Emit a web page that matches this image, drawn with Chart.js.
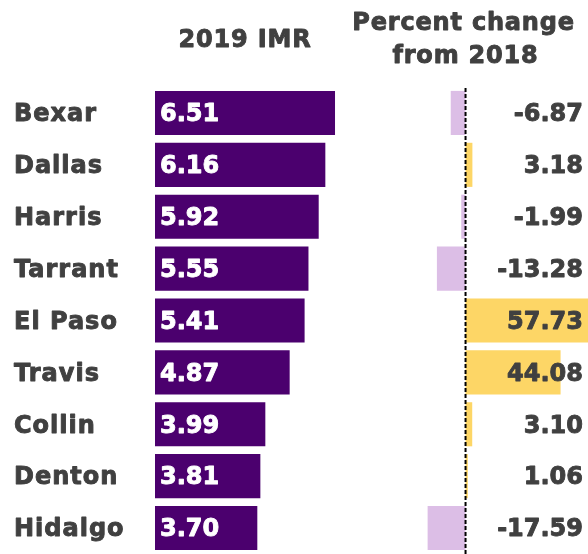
<!DOCTYPE html>
<html>
<head>
<meta charset="utf-8">
<script src="https://cdn.jsdelivr.net/npm/chart.js@4.4.1/dist/chart.umd.min.js"></script>
<style>
  html, body { margin: 0; padding: 0; background: #fff; }
  #wrap { position: relative; width: 588px; height: 554px; }
  #wrap canvas { position: absolute; left: 0; top: 0; }
</style>
</head>
<body>
<div id="wrap">
  <canvas id="grafico-imr" width="588" height="554"></canvas>
  <canvas id="grafico-variacao" width="588" height="554"></canvas>
</div>
<script>
// dados
const condados = ['Bexar', 'Dallas', 'Harris', 'Tarrant', 'El Paso', 'Travis', 'Collin', 'Denton', 'Hidalgo'];
const imr2019 = [6.51, 6.16, 5.92, 5.55, 5.41, 4.87, 3.99, 3.81, 3.70];
const variacao = [-6.87, 3.18, -1.99, -13.28, 57.73, 44.08, 3.10, 1.06, -17.59];
const tituloImr = '2019 IMR';
const tituloVariacao = ['Percent change', 'from 2018'];

const roxo = '#4b006e';
const lilas = '#dcbee6';
const amarelo = '#fdd666';
const cinza = '#404040';
const fonte = '"DejaVu Sans", Verdana, sans-serif';

Chart.defaults.animation = false;
Chart.defaults.responsive = false;

// texto em negrito "pesado" (parecido com Verdana Bold)
function textoGrosso(ctx, txt, x, y, cor) {
    ctx.fillStyle = cor;
    ctx.strokeStyle = cor;
    ctx.lineWidth = 0.9;
    ctx.lineJoin = 'round';
    ctx.fillText(txt, x, y);
    ctx.strokeText(txt, x, y);
}

// painel esquerdo: IMR 2019
const rotulosImr = {
    id: 'rotulosImr',
    afterDatasetsDraw(chart) {
        const ctx = chart.ctx;
        const x = chart.scales.x;
        const y = chart.scales.y;
        ctx.save();
        ctx.font = 'bold 24px ' + fonte;
        ctx.textBaseline = 'middle';
        ctx.textAlign = 'left';
        imr2019.forEach((v, i) => {
            textoGrosso(ctx, v.toFixed(2), x.getPixelForValue(0) + 5, y.getPixelForValue(i) + 2, '#fff');
        });
        ctx.letterSpacing = '1px';
        condados.forEach((c, i) => {
            textoGrosso(ctx, c, 14, y.getPixelForValue(i) + 2, cinza);
        });
        ctx.letterSpacing = '0.8px';
        ctx.textAlign = 'center';
        textoGrosso(ctx, tituloImr, 245, 41, cinza);
        ctx.restore();
    }
};

new Chart(document.getElementById('grafico-imr'), {
    type: 'bar',
    data: {
        labels: condados,
        datasets: [{
            data: imr2019,
            backgroundColor: roxo,
            categoryPercentage: 1,
            barPercentage: 0.85
        }]
    },
    options: {
        indexAxis: 'y',
        layout: { padding: { top: 87, left: 155, right: 188, bottom: 0 } },
        plugins: { legend: { display: false }, tooltip: { enabled: false } },
        scales: {
            x: { display: false, min: 0, max: 8.86 },
            y: { display: false }
        }
    },
    plugins: [rotulosImr]
});

// painel direito: variação percentual
const rotulosVariacao = {
    id: 'rotulosVariacao',
    afterDatasetsDraw(chart) {
        const ctx = chart.ctx;
        const x = chart.scales.x;
        const y = chart.scales.y;
        const area = chart.chartArea;
        ctx.save();
        // linha tracejada no zero
        const x0 = x.getPixelForValue(0);
        ctx.strokeStyle = '#000';
        ctx.lineWidth = 2;
        ctx.setLineDash([4, 2]);
        ctx.beginPath();
        ctx.moveTo(x0, area.top + 1);
        ctx.lineTo(x0, chart.height);
        ctx.stroke();
        ctx.setLineDash([]);
        ctx.font = 'bold 24px ' + fonte;
        ctx.textAlign = 'right';
        ctx.textBaseline = 'middle';
        variacao.forEach((v, i) => {
            textoGrosso(ctx, v.toFixed(2), 583, y.getPixelForValue(i) + 2, cinza);
        });
        ctx.letterSpacing = '0.8px';
        ctx.textAlign = 'center';
        textoGrosso(ctx, tituloVariacao[0], x0 - 2, 24, cinza);
        textoGrosso(ctx, tituloVariacao[1], x0, 57, cinza);
        ctx.restore();
    }
};

new Chart(document.getElementById('grafico-variacao'), {
    type: 'bar',
    data: {
        labels: condados,
        datasets: [{
            data: variacao,
            backgroundColor: variacao.map(v => v < 0 ? lilas : amarelo),
            categoryPercentage: 1,
            barPercentage: 0.85
        }]
    },
    options: {
        indexAxis: 'y',
        layout: { padding: { top: 87, left: 400, right: 0, bottom: 0 } },
        plugins: { legend: { display: false }, tooltip: { enabled: false } },
        scales: {
            x: { display: false, min: -30.4, max: 56.8 },
            y: { display: false }
        }
    },
    plugins: [rotulosVariacao]
});
</script>
</body>
</html>
